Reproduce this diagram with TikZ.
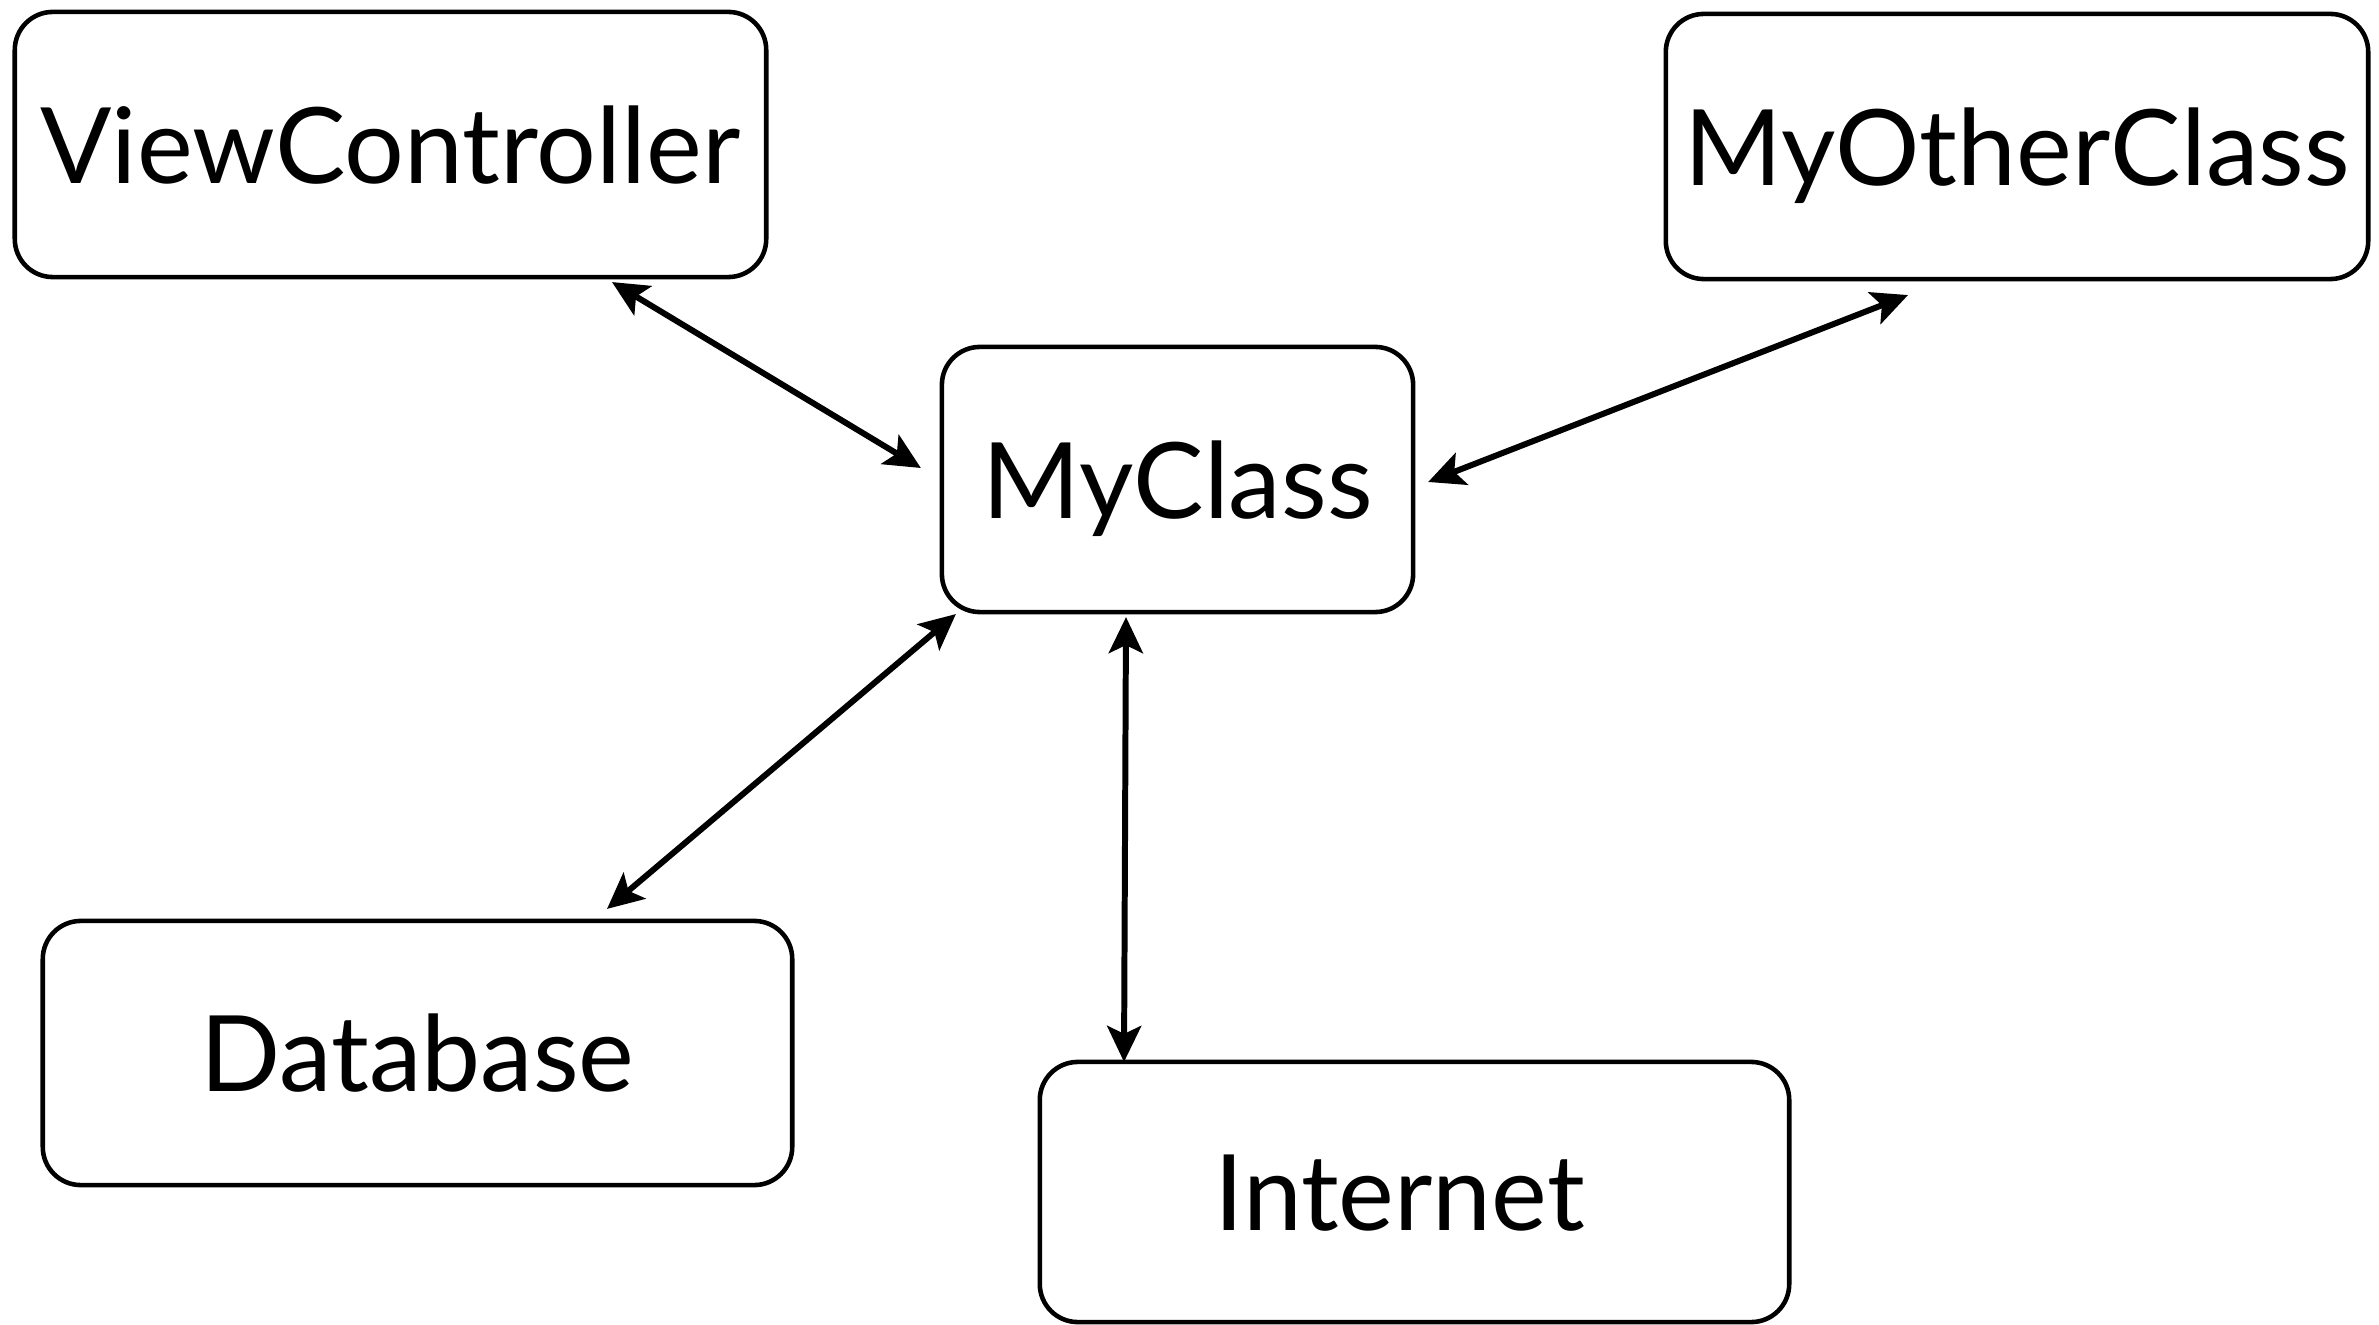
\documentclass[tikz,border=0pt]{standalone}
\usepackage{fontspec}
\setmainfont{Lato}
\usetikzlibrary{arrows.meta}
\begin{document}
\begin{tikzpicture}[x=0.01cm,y=-0.01cm,
  box/.style={draw, line width=1.3pt, rounded corners=0.38cm, inner sep=0pt, outer sep=0pt,
    font=\fontsize{30}{36}\selectfont, text height=0.77cm, text depth=0pt},
  link/.style={line width=1.7pt, {Stealth[length=0.36cm,width=0.34cm,inset=0.08cm]}-{Stealth[length=0.36cm,width=0.34cm,inset=0.08cm]}}
]
\useasboundingbox (0,0) rectangle (2379,1325);
\node[box, minimum width=7.51cm, minimum height=2.65cm] (vc) at (390.5,144.5) {ViewController};
\node[box, minimum width=7.02cm, minimum height=2.65cm] (moc) at (2017,146.5) {MyOtherClass};
\node[box, minimum width=4.71cm, minimum height=2.65cm] (mc) at (1177.5,479.5) {MyClass};
\node[box, minimum width=7.49cm, minimum height=2.64cm] (db) at (417.5,1053) {Database};
\node[box, minimum width=7.49cm, minimum height=2.60cm] (in) at (1414.5,1192) {\hspace*{-0.3cm}Internet};
\draw[link] ([shift={(221.5,5)}]vc.south) -- ([shift={(-21,-11.5)}]mc.west);
\draw[link] ([shift={(-109,16)}]moc.south) -- ([shift={(15,2.5)}]mc.east);
\draw[link] ([shift={(14,2)}]mc.south west) -- ([shift={(189.5,-12)}]db.north);
\draw[link] ([shift={(-51.5,5)}]mc.south) -- ([shift={(-290.5,0)}]in.north);
\end{tikzpicture}
\end{document}
